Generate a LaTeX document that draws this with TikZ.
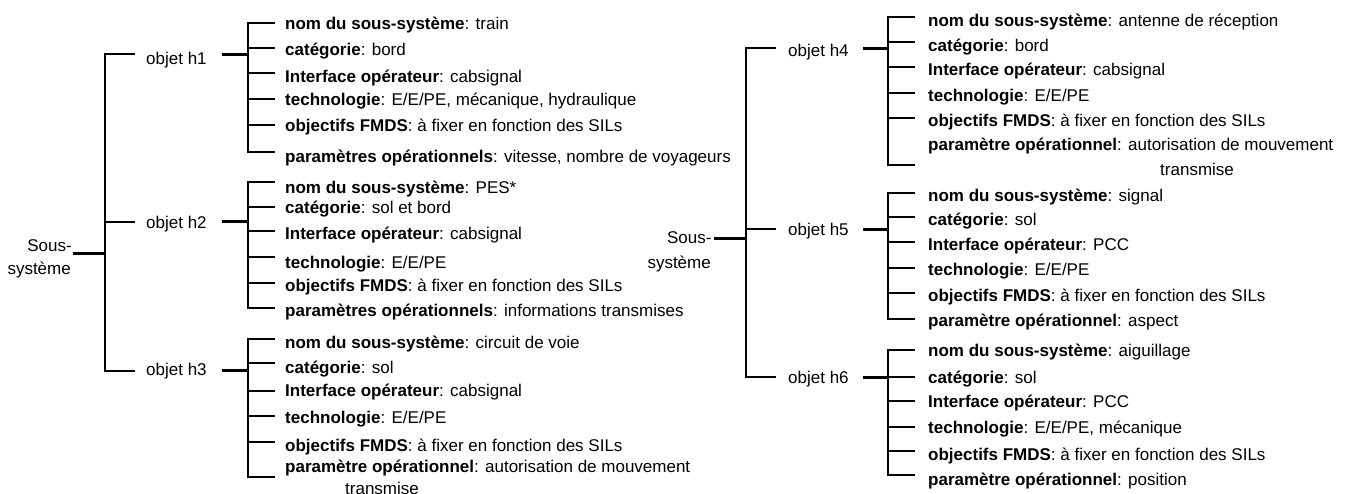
\documentclass[tikz,border=0pt]{standalone}
\usepackage{fontspec}
\setmainfont{Liberation Sans}
\begin{document}
\begin{tikzpicture}[x=1pt,y=-1pt,
  lbl/.style={anchor=base west, inner sep=0pt, font=\fontsize{17}{20}\selectfont},
  rlbl/.style={anchor=base east, inner sep=0pt, font=\fontsize{17}{20}\selectfont},
  hln/.style={line width=2pt},
  vln/.style={line width=2.4pt},
  stub/.style={line width=3pt}]
\useasboundingbox (0,0) rectangle (1353,494);

% ---------------- left tree ----------------
\node[rlbl] (LS1) at (72,252) {Sous-};
\node[rlbl] (LS2) at (71,275) {système};
\coordinate (LSe) at (73,254);
\coordinate (LSp) at (105,254);
\draw[stub] (LSe) -- (LSp);
\coordinate (Lt) at (105,54.3);
\coordinate (Lm) at (105,221.7);
\coordinate (Lb) at (105,371);
\node[lbl] (o1) at (146,64.3) {objet h1};
\node[lbl] (o2) at (146,228.7) {objet h2};
\node[lbl] (o3) at (146,376) {objet h3};
\draw[hln] (135,54.3) -- (Lt) -- (Lb) -- (135,371);
\draw[hln] (Lm) -- (135,221.7);

% brackets left
\draw[stub] (221.7,54.3) -- (248,54.3);
\draw[vln] (248,22.7) -- (248,151.7);
\foreach \y in {22.7,48.3,72.7,99,125,151.7} \draw[hln] (247,\y) -- (275,\y);
\draw[stub] (221.7,221.7) -- (248,221.7);
\draw[vln] (248,181.7) -- (248,308.3);
\foreach \y in {181.7,206.7,231,257.3,283.3,308.3} \draw[hln] (247,\y) -- (275,\y);
\draw[stub] (221.7,371) -- (248,371);
\draw[vln] (248,339) -- (248,476.7);
\foreach \y in {339,363.3,390.7,416,441.7,476.7} \draw[hln] (247,\y) -- (275,\y);

\node[lbl] (a1) at (285,30) {\textbf{nom du sous-système}: train};
\node[lbl] (a2) at (285,56) {\textbf{catégorie}: bord};
\node[lbl] (a3) at (285,83) {\textbf{Interface opérateur}: cabsignal};
\node[lbl] (a4) at (285,106) {\textbf{technologie}: E/E/PE, mécanique, hydraulique};
\node[lbl] (a5) at (285,132) {\textbf{objectifs FMDS}: à fixer en fonction des SILs};
\node[lbl] (a6) at (285,163) {\textbf{paramètres opérationnels}: vitesse, nombre de voyageurs};

\node[lbl] (b1) at (285,193.7) {\textbf{nom du sous-système}: PES*};
\node[lbl] (b2) at (285,213.7) {\textbf{catégorie}: sol et bord};
\node[lbl] (b3) at (285,239.7) {\textbf{Interface opérateur}: cabsignal};
\node[lbl] (b4) at (285,268.7) {\textbf{technologie}: E/E/PE};
\node[lbl] (b5) at (285,292) {\textbf{objectifs FMDS}: à fixer en fonction des SILs};
\node[lbl] (b6) at (285,317) {\textbf{paramètres opérationnels}: informations transmises};

\node[lbl] (c1) at (285,348.7) {\textbf{nom du sous-système}: circuit de voie};
\node[lbl] (c2) at (285,373.7) {\textbf{catégorie}: sol};
\node[lbl] (c3) at (285,397) {\textbf{Interface opérateur}: cabsignal};
\node[lbl] (c4) at (285,423.7) {\textbf{technologie}: E/E/PE};
\node[lbl] (c5) at (285,451) {\textbf{objectifs FMDS}: à fixer en fonction des SILs};
\node[lbl] (c6) at (285,472) {\textbf{paramètre opérationnel}: autorisation de mouvement};
\node[lbl] (c7) at (345,494) {transmise};

% ---------------- right tree ----------------
\node[rlbl] (RS1) at (711.7,243.7) {Sous-};
\node[rlbl] (RS2) at (711,268.7) {système};
\coordinate (RSe) at (714,238.3);
\coordinate (RSp) at (746,238.3);
\draw[stub] (RSe) -- (RSp);
\coordinate (Rt) at (746,48.3);
\coordinate (Rm) at (746,229.3);
\coordinate (Rb) at (746,377.3);
\node[lbl] (o4) at (788,56.3) {objet h4};
\node[lbl] (o5) at (788,235.3) {objet h5};
\node[lbl] (o6) at (788,383.7) {objet h6};
\draw[vln] (776,48.3) -- (Rt) -- (Rb) -- (776,377.3);
\draw[hln] (Rm) -- (776,229.3);

\draw[stub] (862.7,48.3) -- (888,48.3);
\draw[vln] (888,16.7) -- (888,165);
\foreach \y in {16.7,41.7,66.7,93.3,118.3,165} \draw[hln] (887,\y) -- (915,\y);
\draw[stub] (862.7,229.3) -- (888,229.3);
\draw[vln] (888,192.7) -- (888,319);
\foreach \y in {192.7,216.7,241.7,267.7,292.7,319} \draw[hln] (887,\y) -- (915,\y);
\draw[stub] (862.7,377.3) -- (888,377.3);
\draw[vln] (888,350) -- (888,475);
\foreach \y in {350,376.7,400.7,426.7,450.7,475} \draw[hln] (887,\y) -- (915,\y);

\node[lbl] (d1) at (928,27) {\textbf{nom du sous-système}: antenne de réception};
\node[lbl] (d2) at (928,51.3) {\textbf{catégorie}: bord};
\node[lbl] (d3) at (928,75.3) {\textbf{Interface opérateur}: cabsignal};
\node[lbl] (d4) at (928,102) {\textbf{technologie}: E/E/PE};
\node[lbl] (d5) at (928,127) {\textbf{objectifs FMDS}: à fixer en fonction des SILs};
\node[lbl] (d6) at (928,150.3) {\textbf{paramètre opérationnel}: autorisation de mouvement};
\node[lbl] (d7) at (1160,175.3) {transmise};

\node[lbl] (e1) at (928,202) {\textbf{nom du sous-système}: signal};
\node[lbl] (e2) at (928,225.3) {\textbf{catégorie}: sol};
\node[lbl] (e3) at (928,250.3) {\textbf{Interface opérateur}: PCC};
\node[lbl] (e4) at (928,275.3) {\textbf{technologie}: E/E/PE};
\node[lbl] (e5) at (928,302) {\textbf{objectifs FMDS}: à fixer en fonction des SILs};
\node[lbl] (e6) at (928,327) {\textbf{paramètre opérationnel}: aspect};

\node[lbl] (f1) at (928,357) {\textbf{nom du sous-système}: aiguillage};
\node[lbl] (f2) at (928,383.7) {\textbf{catégorie}: sol};
\node[lbl] (f3) at (928,407) {\textbf{Interface opérateur}: PCC};
\node[lbl] (f4) at (928,433.7) {\textbf{technologie}: E/E/PE, mécanique};
\node[lbl] (f5) at (928,460.3) {\textbf{objectifs FMDS}: à fixer en fonction des SILs};
\node[lbl] (f6) at (928,485.3) {\textbf{paramètre opérationnel}: position};
\end{tikzpicture}
\end{document}
